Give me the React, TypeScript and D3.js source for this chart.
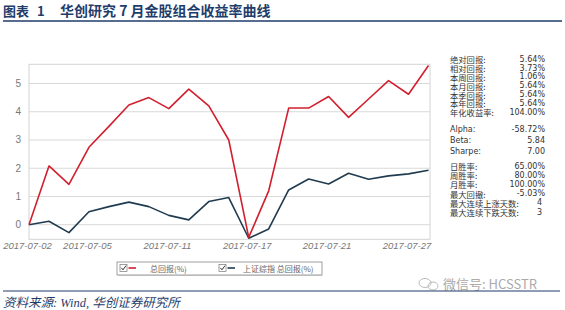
import React from "react";
import * as d3 from "d3";

const dates = [
  "2017-07-02", "2017-07-03", "2017-07-04", "2017-07-05", "2017-07-06", "2017-07-07",
  "2017-07-10", "2017-07-11", "2017-07-12", "2017-07-13", "2017-07-14", "2017-07-17",
  "2017-07-18", "2017-07-19", "2017-07-20", "2017-07-21", "2017-07-24", "2017-07-25",
  "2017-07-26", "2017-07-27", "2017-07-28",
];
const portfolio = [0, 2.08, 1.43, 2.74, 3.48, 4.24, 4.5, 4.11, 4.8, 4.21, 3.0, -0.45, 1.2, 4.13, 4.13, 4.54, 3.8, 4.45, 5.1, 4.62, 5.64];
const index = [0, 0.12, -0.28, 0.46, 0.64, 0.8, 0.64, 0.33, 0.17, 0.82, 0.96, -0.48, -0.15, 1.23, 1.62, 1.44, 1.82, 1.61, 1.73, 1.8, 1.93];
const xTickLabels = ["2017-07-02", "2017-07-05", "2017-07-11", "2017-07-17", "2017-07-21", "2017-07-27"];
const yTicks = [0, 1, 2, 3, 4, 5];
const seriesNames = ["总回报(%)", "上证综指 总回报(%)"];

const statsGroup1 = [
  ["绝对回报:", "5.64%"], ["相对回报:", "3.73%"], ["本周回报:", "1.06%"], ["本月回报:", "5.64%"],
  ["本季回报:", "5.64%"], ["本年回报:", "5.64%"], ["年化收益率:", "104.00%"],
];
const statsGroup2 = [["Alpha:", "-58.72%"], ["Beta:", "5.84"], ["Sharpe:", "7.00"]];
const statsGroup3 = [
  ["日胜率:", "65.00%"], ["周胜率:", "80.00%"], ["月胜率:", "100.00%"], ["最大回撤:", "-5.03%"],
  ["最大连续上涨天数:", "4"], ["最大连续下跌天数:", "3"],
];

const RED = "#d21f2e";
const BLUE = "#1f3b50";
const NAVY = "#1f3d6b";
const CJK = "'Noto Sans CJK SC', 'Noto Sans', sans-serif";

export default function App() {
  const W = 565, H = 310;
  const left = 29, right = 428.5, frameRight = 430, top = 64.3, bottom = 239.3;
  const x = d3.scalePoint<string>().domain(dates).range([left, right]);
  const y = d3.scaleLinear().domain([0, 5]).range([224.7, 83.5]);
  const line = d3.line<number>().x((_, i) => x(dates[i])!).y((d) => y(d));

  const statRow = (rows: string[][], y0: number, step: number, latin: boolean) =>
    rows.map((r, i) => (
      <g key={r[0]}>
        <text x={450} y={y0 + i * step} dominantBaseline="central" fontSize={latin ? 8 : 8.3}
          fontFamily={latin ? "'DejaVu Sans', sans-serif" : CJK} fill="#333">{r[0]}</text>
        <text x={r[1].length < 3 ? 542 : 545} y={y0 + i * step} dominantBaseline="central" textAnchor="end" fontSize={8}
          fontFamily="'DejaVu Sans', sans-serif" fill="#333">{r[1]}</text>
      </g>
    ));

  return (
    <svg width={W} height={H} style={{ position: "absolute", left: 0, top: 0, background: "#fff" }}>
      {/* title */}
      <text x={3} y={16} fontSize={13} fontWeight="bold" fill={NAVY} fontFamily={CJK}>图表</text>
      <text x={37} y={16} fontSize={13} fontWeight="bold" fill={NAVY} fontFamily={CJK}>1</text>
      <text x={60} y={16} fontSize={14} fontWeight="bold" fill={NAVY} fontFamily={CJK}>华创研究 7 月金股组合收益率曲线</text>
      <line x1={3} x2={562} y1={21} y2={21} stroke={NAVY} strokeWidth={1.5} />

      {/* grid */}
      {yTicks.map((t) => (
        <g key={t}>
          <line x1={left} x2={frameRight} y1={y(t)} y2={y(t)} stroke="#d9d9d9" strokeWidth={1} />
          <text x={21} y={y(t)} textAnchor="end" dominantBaseline="central" fontSize={10}
            fontFamily="'Liberation Sans', Arial, sans-serif" fill="#777">{t}</text>
        </g>
      ))}
      <rect x={left} y={top} width={frameRight - left} height={bottom - top} fill="none" stroke="#d4d4d4" strokeWidth={1} />
      {xTickLabels.map((d) => (
        <text key={d} x={x(d)! - 1.5} y={249} textAnchor="middle" fontSize={9.5} fontStyle="italic"
          fontFamily="'Liberation Sans', Arial, sans-serif" fill="#777">{d}</text>
      ))}

      <path d={line(index)!} fill="none" stroke={BLUE} strokeWidth={1.6} strokeLinejoin="round" />
      <path d={line(portfolio)!} fill="none" stroke={RED} strokeWidth={1.6} strokeLinejoin="round" />

      {/* stats panel */}
      {statRow(statsGroup1, 59.3, 8.8, false)}
      {statRow(statsGroup2, 129.5, 11, true)}
      {statRow(statsGroup3, 166, 9.2, false)}

      {/* legend */}
      <rect x={117} y={262} width={205} height={13} fill="#fff" stroke="#888" strokeWidth={0.8} />
      <line x1={118} x2={322} y1={275.5} y2={275.5} stroke="#bbb" strokeWidth={1} />
      {[{ cx: 120, color: RED, name: seriesNames[0], tx: 150 }, { cx: 219, color: BLUE, name: seriesNames[1], tx: 243 }].map((l) => (
        <g key={l.name}>
          <rect x={l.cx} y={264.5} width={7} height={7} fill="#fff" stroke="#777" strokeWidth={0.7} />
          <path d={`M${l.cx + 1.3},${267.8} L${l.cx + 3},${269.8} L${l.cx + 6},${265.6}`} fill="none" stroke="#333" strokeWidth={1} />
          <line x1={l.cx + 8.5} x2={l.cx + 16} y1={268} y2={268} stroke={l.color} strokeWidth={1.6} />
          <text x={l.tx} y={268.3} dominantBaseline="central" fontSize={8} fontFamily={CJK} fill="#666">{l.name}</text>
        </g>
      ))}

      {/* watermark */}
      <g stroke="#bbb" fill="none" strokeWidth={1}>
        <ellipse cx={425} cy={283} rx={6} ry={4.5} />
        <ellipse cx={433} cy={286} rx={5} ry={4} />
      </g>
      <text x={443} y={289} fontSize={13} fontFamily={CJK} fill="#aaa">微信号: HCSSTR</text>

      {/* footer */}
      <line x1={3} x2={560} y1={291} y2={291} stroke={NAVY} strokeWidth={1.2} />
      <text x={3} y={307} fontSize={12.5} fontStyle="italic" fill={NAVY}
        fontFamily="'Liberation Serif', 'Noto Sans CJK SC', serif">资料来源: Wind, 华创证券研究所</text>
    </svg>
  );
}
